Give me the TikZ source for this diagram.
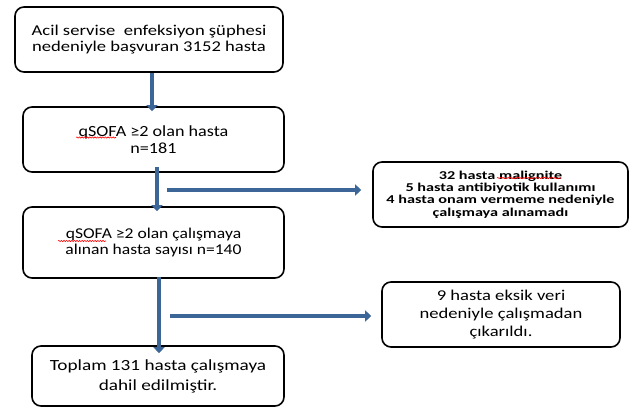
\documentclass[tikz,border=0pt]{standalone}
\usepackage{fontspec}
\setmainfont{Carlito}[FakeStretch=1.24]
\newfontfamily\narrowfont{Carlito}[FakeStretch=1.17]
\newfontfamily\smallfont{Carlito}[FakeStretch=1.35]
\usetikzlibrary{arrows.meta,decorations.pathmorphing}
\definecolor{arrblue}{HTML}{3D6698}
\tikzset{
  box/.style={draw=black, line width=1.6pt, rounded corners=9pt, fill=white, align=center, inner sep=0pt, font=\fontsize{15}{16.5}\selectfont},
  sidebox/.style={box, font=\smallfont\bfseries\fontsize{12}{12.3}\selectfont},
  arr/.style={draw=arrblue, line width=4pt, -{Triangle[width=11pt,length=6pt]}},
  spell/.style={draw=red, line width=0.6pt, decorate, decoration={snake, amplitude=0.6pt, segment length=2.6pt}},
}
\begin{document}
\begin{tikzpicture}[x=1pt,y=-1pt]
\useasboundingbox (0,0) rectangle (635,409);
\node[box, minimum width=268pt, minimum height=65pt] (b1) at (149,39.5) {Acil servise\ \ enfeksiyon şüphesi\\nedeniyle başvuran 3152 hasta};
\node[box, minimum width=261pt, minimum height=65pt, font=\narrowfont\fontsize{15.5}{17}\selectfont] (b2) at (153.5,139.5) {qSOFA ≥2\ olan hasta\\n=181};
\node[box, minimum width=261pt, minimum height=71pt, font=\narrowfont\fontsize{15}{17}\selectfont] (b3) at (153.5,242.5) {qSOFA ≥2\ olan çalışmaya\\alınan hasta sayısı n=140};
\node[box, minimum width=252pt, minimum height=60pt, font=\fontsize{15.5}{20}\selectfont] (b4) at (158,376) {Toplam 131 hasta çalışmaya\\dahil edilmiştir.};
\node[sidebox, minimum width=255pt, minimum height=65pt] (r1) at (500.5,194.5) {32 hasta malignite\\5 hasta antibiyotik kullanımı\\4 hasta onam vermeme nedeniyle\\çalışmaya alınamadı};
\node[box, minimum width=238pt, minimum height=65pt, font=\fontsize{15}{18}\selectfont] (r2) at (501,314.5) {9 hasta eksik veri\\nedeniyle çalışmadan\\çıkarıldı.};
\coordinate (h1) at (167,190);
\coordinate (h2) at (170,316);
\draw[arr] ([xshift=3pt]b1.south) -- ([xshift=3pt,yshift=-5pt]b1.south |- b2.north);
\draw[arr] ([xshift=3.5pt,yshift=6pt]b2.south) -- ([xshift=3.5pt,yshift=-5pt]b2.south |- b3.north);
\draw[arr] ([xshift=5.5pt,yshift=2pt]b3.south) -- ([xshift=5.5pt,yshift=-8pt]b3.south |- b4.north);
\draw[arr] (h1) -- ([xshift=-11pt]r1.west |- h1);
\draw[arr] (h2) -- ([xshift=-10pt]r2.west |- h2);
\draw[spell] (76,137.5) -- (116,137.5);
\draw[spell] (58,241) -- (106,241);
\draw[spell] (497,178) -- (561,178);
\end{tikzpicture}
\end{document}
